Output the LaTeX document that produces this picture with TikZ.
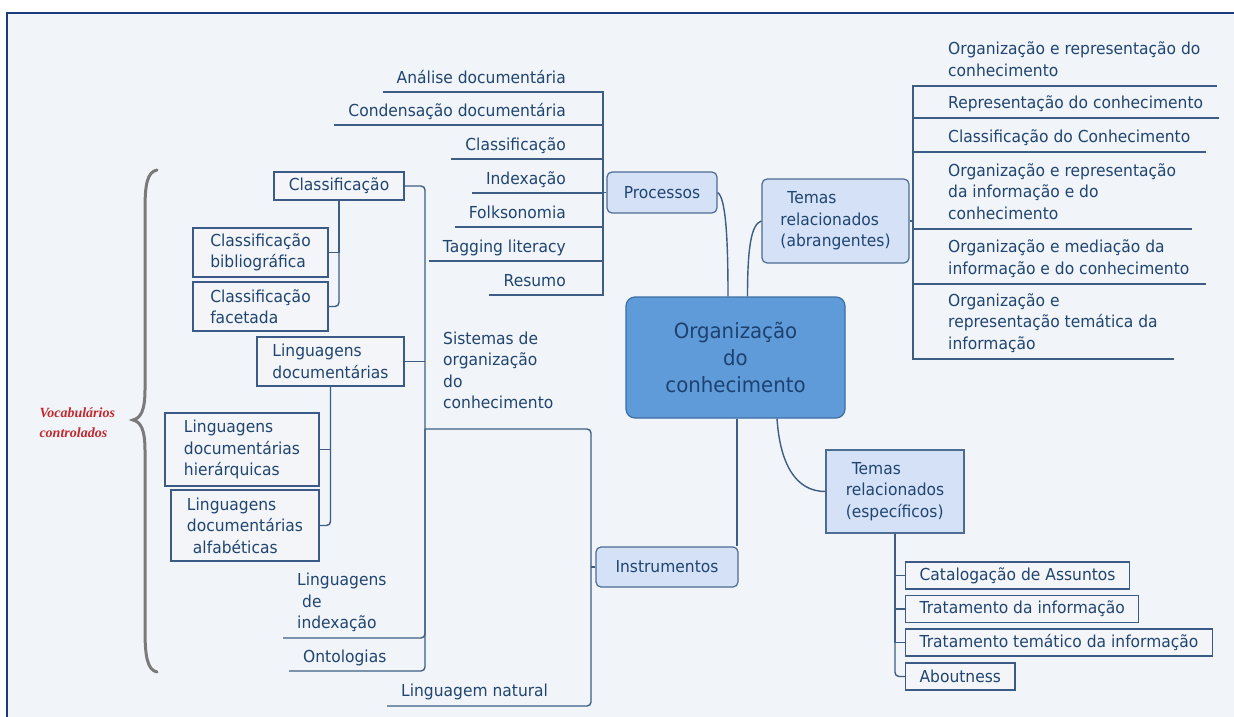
\documentclass[tikz,border=0pt]{standalone}
\usepackage{fontspec}
\setmainfont{DejaVu Sans}[FakeStretch = 0.94]
\newfontfamily\vocfont{Liberation Serif}
\usepackage{xcolor}
\usetikzlibrary{positioning,calc}
\definecolor{bgc}{HTML}{F1F4F8}
\definecolor{framec}{HTML}{1B3C7C}
\definecolor{txtc}{HTML}{1F4570}
\definecolor{linkc}{HTML}{3E5D84}
\definecolor{topicfill}{HTML}{D4E1F7}
\definecolor{topicdraw}{HTML}{4C6C93}
\definecolor{ocfill}{HTML}{5E9BD8}
\definecolor{ocdraw}{HTML}{3F6EA4}
\definecolor{octxt}{HTML}{1E4170}
\definecolor{boxfill}{HTML}{F4F5F8}
\definecolor{boxdraw}{HTML}{3B5A85}
\definecolor{bracec}{HTML}{7A7A7A}
\definecolor{vocc}{HTML}{C3282E}

\begin{document}
\begin{tikzpicture}[x = 1pt, y = -1pt,
  txt/.style = {text = txtc, font = \fontsize{16.5}{21.5}\selectfont},
  link/.style = {draw = linkc, line width = 1.4pt},
  topic/.style = {txt, draw = topicdraw, fill = topicfill, line width = 1.2pt, rounded corners = 5pt, align = left},
  central/.style = {draw = ocdraw, fill = ocfill, line width = 1.2pt, rounded corners = 9pt, text = octxt, align = center, font = \fontsize{21}{27}\selectfont},
  box/.style = {txt, draw = boxdraw, fill = boxfill, line width = 1.2pt, align = left},
  pleaf/.style = {txt, inner xsep = 14pt, inner ysep = 4pt, text depth = 4pt, anchor = south east},
  lleaf/.style = {txt, inner xsep = 14pt, inner ysep = 5pt, text depth = 4pt, anchor = south west, align = left},
  rleaf/.style = {txt, inner xsep = 16pt, inner ysep = 5.5pt, text depth = 4pt, anchor = south west, align = left},
  sbox/.style = {box, inner xsep = 14pt, inner ysep = 0pt, minimum height = 27pt, anchor = west}]
\useasboundingbox (0,0) rectangle (1234,717);
\fill[white] (0,0) rectangle (1234,717);
\draw[draw = framec, line width = 2pt, fill = bgc] (7,13) rectangle (1250,730);

\node[central, minimum width = 219pt, minimum height = 121pt] (oc) at (735.5,357.5) {Organização\\do\\conhecimento};
\node[topic, minimum width = 110pt, minimum height = 41pt] (proc) at (662,192.5) {Processos};
\node[topic, minimum width = 142pt, minimum height = 40pt] (inst) at (667,567) {Instrumentos};
\node[topic, minimum width = 147pt, minimum height = 84pt] (tab) at (835.5,221) {\hspace*{7pt}Temas\\relacionados\\(abrangentes)};
\node[topic, sharp corners, minimum width = 138pt, minimum height = 83pt] (tes) at (895,491.5) {\hspace*{6pt}Temas\\relacionados\\(específicos)};

\coordinate (pk) at (603,192.5);
\coordinate (ik) at (591,567);
\coordinate (ak) at (913,221);

\node[pleaf] (p1) at (580,92) {Análise documentária};
\node[pleaf] (p2) at (580,125) {Condensação documentária};
\node[pleaf] (p3) at (580,159) {Classificação};
\node[pleaf] (p4) at (580,193) {Indexação};
\node[pleaf] (p5) at (580,227) {Folksonomia};
\node[pleaf] (p6) at (580,261) {Tagging literacy};
\node[pleaf] (p7) at (580,295) {Resumo};

\node[rleaf] (t1) at (932,86) {Organização e representação do\\conhecimento};
\node[rleaf] (t2) at (932,118) {Representação do conhecimento};
\node[rleaf] (t3) at (932,152) {Classificação do Conhecimento};
\node[rleaf] (t4) at (932,229) {Organização e representação\\da informação e do\\conhecimento};
\node[rleaf] (t5) at (932,284) {Organização e mediação da\\informação e do conhecimento};
\node[rleaf] (t6) at (932,359) {Organização e\\representação temática da\\informação};

\node[sbox] (s1) at (905,575.5) {Catalogação de Assuntos};
\node[sbox] (s2) at (905,609) {Tratamento da informação};
\node[sbox] (s3) at (905,642.5) {Tratamento temático da informação};
\node[sbox] (s4) at (905,676.5) {Aboutness};

\node[lleaf, inner xsep = 18pt, inner ysep = 16pt] (so) at (425,429) {Sistemas de\\organização\\do\\conhecimento};
\node[lleaf] (ln) at (387,706) {Linguagem natural};
\node[lleaf] (li) at (283,638) {Linguagens\\\hspace*{5pt}de\\indexação};
\node[lleaf, inner ysep = 4pt] (on) at (289,671) {Ontologias};

\node[box, minimum width = 130pt, minimum height = 28pt] (cl) at (339,186) {Classificação};
\node[box, minimum width = 135pt, minimum height = 49pt] (cb) at (260.5,252.5) {Classificação\\bibliográfica};
\node[box, minimum width = 135pt, minimum height = 49pt] (cf) at (260.5,306.5) {Classificação\\facetada};
\node[box, minimum width = 147pt, minimum height = 49pt] (ld) at (330.5,361.5) {Linguagens\\documentárias};
\node[box, minimum width = 154pt, minimum height = 73pt] (lh) at (242,449.5) {Linguagens\\documentárias\\hierárquicas};
\node[box, minimum width = 148pt, minimum height = 71pt] (la) at (245,525.5) {Linguagens\\documentárias\\\hspace*{6pt}alfabéticas};

\node[anchor = west, align = left, text = vocc, font = \vocfont\bfseries\itshape\fontsize{14}{20}\selectfont] (vc) at (36,423) {Vocabulários\\controlados};

\draw[draw = bracec, line width = 3pt, line cap = round] (157,170) .. controls (147,172) and (145,185) .. (145,210) -- (145,390) .. controls (145,410) and (141,418) .. (133,420) .. controls (141,422) and (145,430) .. (145,450) -- (145,630) .. controls (145,655) and (147,670) .. (157,672);

\draw[link] (proc.east) .. controls +(8,5) and +(0,-60) .. ([xshift = -7.5pt]oc.north);
\draw[link] ([xshift = 12pt]oc.north) .. controls +(0,-50) and +(-10,3) .. (tab.west);
\draw[link] ([xshift = 1.5pt]oc.south) -- ([xshift = 1.5pt]oc.south |- inst.north);
\draw[link] ([xshift = 41.5pt]oc.south) .. controls +(3,45) and +(-30,0) .. (tes.west);

\draw[link] (proc.west) -- (pk);
\draw[link] (p1.south west) -| (pk);
\draw[link] (p2.south west) -| (pk);
\draw[link] (p3.south west) -| (pk);
\draw[link] (p4.south west) -| (pk);
\draw[link] (p5.south west) -| (pk);
\draw[link] (p6.south west) -| (pk);
\draw[link] (p7.south west) -| (pk);

\draw[link] (tab.east) -- (ak);
\draw[link] (t1.south east) -| (ak);
\draw[link] (t2.south east) -| (ak);
\draw[link] (t3.south east) -| (ak);
\draw[link] (t4.south east) -| (ak);
\draw[link] (t5.south east) -| (ak);
\draw[link] (t6.south east) -| (ak);

\draw[link] (tes.south) |- (s1.west);
\draw[link] (tes.south) |- (s2.west);
\draw[link] (tes.south) |- (s3.west);
\draw[link, rounded corners = 4pt] (tes.south) |- (s4.west);

\draw[link] (inst.west) -- (ik);
\draw[link, rounded corners = 4pt] (so.south west) -| (ik);
\draw[link, rounded corners = 4pt] (ln.south west) -| (ik);

\draw[link, rounded corners = 4pt] (cl.east) -| (so.south west);
\draw[link] (ld.east) -- (ld.east -| so.south west);
\draw[link, rounded corners = 4pt] (li.south west) -| (so.south west);
\draw[link, rounded corners = 4pt] (on.south west) -| (so.south west);

\draw[link] (cl.south) |- (cb.east);
\draw[link, rounded corners = 4pt] (cl.south) |- (cf.east);
\draw[link] (ld.south) |- (lh.east);
\draw[link, rounded corners = 4pt] (ld.south) |- (la.east);
\end{tikzpicture}
\end{document}
